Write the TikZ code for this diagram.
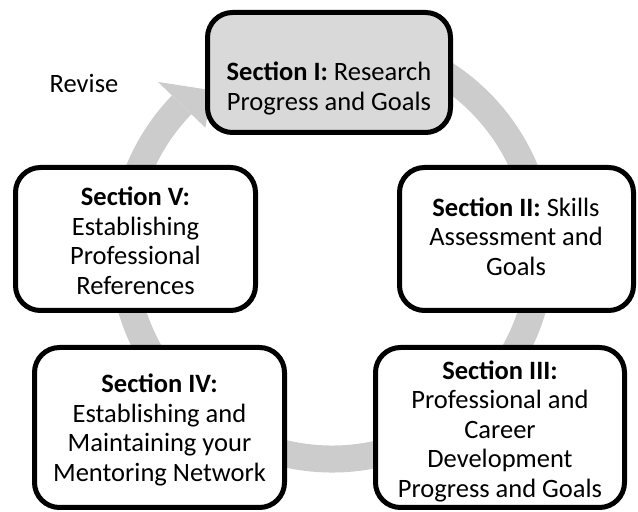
\documentclass[tikz,border=0pt]{standalone}
\usepackage{fontspec}
\setmainfont{Carlito}
\definecolor{ringgray}{RGB}{204,204,204}
\definecolor{boxgray}{RGB}{217,217,217}
\begin{document}
\begin{tikzpicture}[x=1pt,y=1pt,
  section/.style={draw=black, line width=5pt, rounded corners=25pt, fill=white, inner sep=0pt},
  sectext/.style={align=center, inner sep=0pt, font=\fontsize{26.5}{29.5}\selectfont},
]
\useasboundingbox (0,0) rectangle (638,512);
\coordinate (ctr) at (332,262);
% the cycle ring behind the boxes, ending in an arrowhead at the upper left
\draw[ringgray, line width=27pt] ([shift={(80:209pt)}]ctr) arc[start angle=80, end angle=-224, radius=209pt];
\fill[ringgray] ([shift={(136:242pt)}]ctr) -- ([shift={(127:200pt)}]ctr) -- ([shift={(136:176pt)}]ctr) -- cycle;

% section boxes
\node[section, fill=boxgray, minimum width=243pt, minimum height=120pt] (s1) at (329,439.5) {};
\node[section, minimum width=234pt, minimum height=143pt] (s2) at (516.5,273) {};
\node[section, minimum width=249pt, minimum height=160pt] (s3) at (500,84.5) {};
\node[section, minimum width=250pt, minimum height=160pt] (s4) at (159.5,84.5) {};
\node[section, minimum width=240pt, minimum height=143pt] (s5) at (135.5,273) {};

% box texts
\node[sectext] (s1t) at (329,423.5) {\textbf{Section I:} Research\\Progress and Goals};
\node[sectext] (s2t) at (516,275.5) {\textbf{Section II:} Skills\\Assessment and\\Goals};
\node[sectext] (s3t) at (500,81) {\textbf{Section III:}\\Professional and\\Career\\Development\\Progress and Goals};
\node[sectext] (s4t) at (159.5,82) {\textbf{Section IV:}\\Establishing and\\Maintaining your\\Mentoring Network};
\node[sectext] (s5t) at (135.5,271) {\textbf{Section V:}\\Establishing\\Professional\\References};

\node[sectext, anchor=base] (rev) at (84,419) {Revise};
\end{tikzpicture}
\end{document}
